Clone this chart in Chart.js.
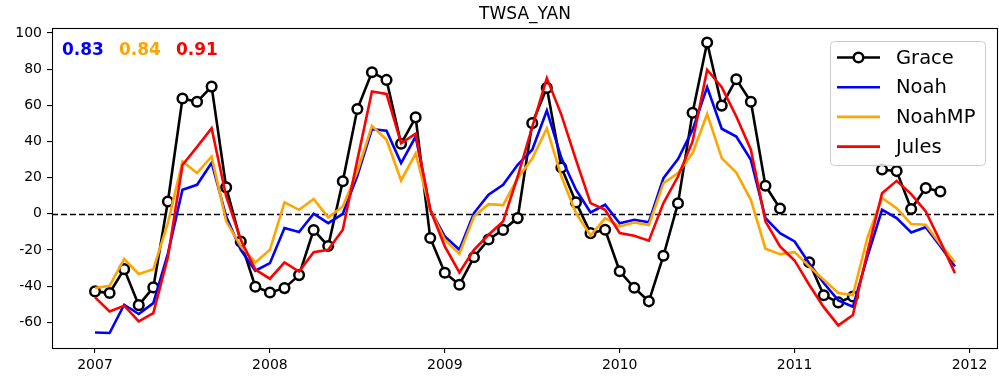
<!DOCTYPE html>
<html>
<head>
<meta charset="utf-8">
<title>TWSA_YAN</title>
<script src="https://cdn.jsdelivr.net/npm/chart.js@4.4.1/dist/chart.umd.min.js"></script>
<style>
  html, body { margin: 0; padding: 0; background: #fff; }
</style>
</head>
<body>
<canvas id="twsa" width="999" height="379"></canvas>
<script>
// monthly TWSA anomalies (mm), Jan 2007 - Dec 2011
const months = [
  '2007-01','2007-02','2007-03','2007-04','2007-05','2007-06','2007-07','2007-08','2007-09','2007-10','2007-11','2007-12',
  '2008-01','2008-02','2008-03','2008-04','2008-05','2008-06','2008-07','2008-08','2008-09','2008-10','2008-11','2008-12',
  '2009-01','2009-02','2009-03','2009-04','2009-05','2009-06','2009-07','2009-08','2009-09','2009-10','2009-11','2009-12',
  '2010-01','2010-02','2010-03','2010-04','2010-05','2010-06','2010-07','2010-08','2010-09','2010-10','2010-11','2010-12',
  '2011-01','2011-02','2011-03','2011-04','2011-05','2011-06','2011-07','2011-08','2011-09','2011-10','2011-11','2011-12'
];

// GRACE has a few missing months (null)
const grace = [
  -42.9, -43.8, -30.6, -50.5, -40.7, 6.8, 63.7, 61.9, 70.3, 14.6, -15.4, -40.3,
  -43.5, -41.1, -33.9, -9.0, -17.8, 18.0, 57.9, 78.2, 74.0, 38.7, 53.3, -13.4,
  -32.6, -39.2, -24.0, -14.2, -8.9, -2.4, 50.1, 69.6, 25.6, 6.3, -10.7, -8.8,
  -31.8, -40.9, -48.4, -23.2, 5.8, 55.8, 94.7, 59.8, 74.4, 61.9, 15.5, 2.9,
  null, -26.8, -45.0, -49.0, -45.7, null, 24.5, 23.6, 2.6, 14.2, 12.3, null
];
const noah = [
  -65.6, -65.9, -50.3, -55.4, -49.4, -22.0, 13.3, 16.0, 28.2, -1.5, -20.0, -31.5,
  -27.3, -7.9, -10.1, 0.0, -5.2, 0.0, 21.0, 46.8, 45.9, 28.0, 42.7, 2.2,
  -12.5, -19.9, 0.4, 10.5, 16.0, 27.1, 35.4, 57.1, 30.8, 13.3, 0.7, 5.0,
  -5.2, -3.3, -4.7, 19.7, 30.2, 46.4, 70.0, 47.0, 42.7, 29.8, -2.4, -10.7,
  -15.3, -27.3, -38.3, -47.9, -51.4, -23.6, 2.2, -2.4, -10.3, -7.4, -18.0, -29.1
];
const noahMP = [
  -41.0, -39.8, -25.0, -33.3, -30.6, -5.0, 28.9, 22.5, 31.7, -4.2, -18.0, -26.9,
  -19.9, 6.3, 2.2, 8.2, -2.0, 4.0, 23.4, 48.6, 40.9, 18.4, 33.3, 2.2,
  -14.4, -22.1, -1.5, 5.3, 4.8, 19.7, 30.5, 47.3, 20.6, 0.4, -12.0, -2.4,
  -7.0, -4.8, -6.2, 16.9, 22.5, 33.5, 55.2, 30.8, 22.8, 7.7, -19.3, -22.3,
  -21.2, -29.1, -36.5, -43.8, -44.9, -13.0, 8.7, 3.1, -5.7, -6.1, -16.8, -26.7
];
const jules = [
  -46.2, -54.0, -50.8, -59.5, -54.9, -24.0, 27.0, 37.0, 47.3, 9.6, -14.4, -30.9,
  -35.9, -26.9, -31.9, -21.2, -19.9, -8.8, 29.8, 67.6, 66.3, 39.0, 44.3, 2.2,
  -18.0, -32.4, -19.9, -11.6, -4.2, 20.6, 48.0, 75.0, 54.7, 29.8, 5.9, 2.2,
  -10.7, -12.2, -14.9, 5.9, 20.6, 40.0, 79.6, 70.0, 53.8, 35.4, -4.2, -18.0,
  -25.8, -39.2, -51.6, -61.7, -56.0, -21.0, 11.4, 18.2, 10.9, 1.3, -15.3, -32.8
];

// correlation of each model with GRACE
const corrLabels = ['0.83', '0.84', '0.91'];

const yearTicks = [2007, 2008, 2009, 2010, 2011, 2012];
const valueTicks = [-60, -40, -20, 0, 20, 40, 60, 80, 100];

const FONT = "'DejaVu Sans', sans-serif";

// month string -> decimal year
function toYear(s) {
  return +s.slice(0, 4) + (+s.slice(5, 7) - 1) / 12;
}
function series(values) {
  return months.map((m, i) => ({ x: toYear(m), y: values[i] }));
}

const datasets = [
  {
    label: 'Grace', data: series(grace),
    borderColor: '#000000', backgroundColor: '#ffffff',
    borderWidth: 2.6, pointRadius: 4.8, pointBorderWidth: 2.5,
    pointBackgroundColor: '#ffffff', pointBorderColor: '#000000',
    spanGaps: false, order: 4
  },
  { label: 'Noah', data: series(noah), borderColor: '#0000ff', borderWidth: 2.6, pointRadius: 0, order: 3 },
  { label: 'NoahMP', data: series(noahMP), borderColor: '#ffa500', borderWidth: 2.6, pointRadius: 0, order: 2 },
  { label: 'Jules', data: series(jules), borderColor: '#ff0000', borderWidth: 2.6, pointRadius: 0, order: 1 }
];

// zero line, frame, title, correlation numbers and the legend box
const decorations = {
  id: 'decorations',
  beforeDatasetsDraw(chart) {
    const ctx = chart.ctx;
    const area = chart.chartArea;
    const y0 = Math.round(chart.scales.y.getPixelForValue(0)) + 0.5;
    ctx.save();
    ctx.strokeStyle = '#000';
    ctx.lineWidth = 1.5;
    ctx.setLineDash([6, 3]);
    ctx.beginPath();
    ctx.moveTo(area.left, y0);
    ctx.lineTo(area.right, y0);
    ctx.stroke();
    ctx.restore();
  },
  afterDraw(chart) {
    const ctx = chart.ctx;
    const area = chart.chartArea;
    ctx.save();

    // axes box
    ctx.strokeStyle = '#000';
    ctx.lineWidth = 1.1;
    ctx.strokeRect(area.left + 0.5, area.top + 0.5, area.right - area.left - 1, area.bottom - area.top);

    // title
    ctx.fillStyle = '#000';
    ctx.font = '17px ' + FONT;
    ctx.textAlign = 'center';
    ctx.textBaseline = 'middle';
    ctx.fillText('TWSA_YAN', (area.left + area.right) / 2, 15);

    // correlation values in the model colours
    ctx.font = 'bold 17px ' + FONT;
    ctx.textAlign = 'left';
    let cx = area.left + 10;
    corrLabels.forEach((txt, k) => {
      ctx.fillStyle = chart.data.datasets[k + 1].borderColor;
      ctx.fillText(txt, cx, 51);
      cx += ctx.measureText(txt).width + 15;
    });

    // legend
    const bx = 830.5, by = 41.5, bw = 155, bh = 124;
    ctx.beginPath();
    ctx.roundRect(bx, by, bw, bh, 4);
    ctx.fillStyle = 'rgba(255,255,255,0.8)';
    ctx.fill();
    ctx.strokeStyle = '#cccccc';
    ctx.lineWidth = 1;
    ctx.stroke();

    ctx.font = '19.5px ' + FONT;
    ctx.textBaseline = 'middle';
    chart.data.datasets.forEach((ds, k) => {
      const ry = 57.5 + k * 29.7;
      ctx.strokeStyle = ds.borderColor;
      ctx.lineWidth = 2.6;
      ctx.beginPath();
      ctx.moveTo(837, ry);
      ctx.lineTo(880, ry);
      ctx.stroke();
      if (ds.pointRadius > 0) {
        ctx.beginPath();
        ctx.arc(858.5, ry, ds.pointRadius, 0, Math.PI * 2);
        ctx.fillStyle = ds.pointBackgroundColor;
        ctx.fill();
        ctx.lineWidth = ds.pointBorderWidth;
        ctx.strokeStyle = ds.pointBorderColor;
        ctx.stroke();
      }
      ctx.fillStyle = '#000';
      ctx.fillText(ds.label, 896, ry + 1);
    });

    ctx.restore();
  }
};

const config = {
  type: 'line',
  data: { datasets: datasets },
  options: {
    responsive: false,
    animation: false,
    layout: { autoPadding: false, padding: { top: 28, right: 1, left: 0, bottom: 0 } },
    plugins: {
      legend: { display: false },
      tooltip: { enabled: false },
      title: { display: false }
    },
    scales: {
      x: {
        type: 'linear',
        min: 2006.754,
        max: 2012.163,
        afterFit(scale) { scale.height = 31; },
        afterBuildTicks(scale) { scale.ticks = yearTicks.map(v => ({ value: v })); },
        border: { display: false },
        grid: { drawOnChartArea: false, drawTicks: true, tickLength: 5, color: '#000', lineWidth: 1.1 },
        ticks: {
          autoSkip: false, maxRotation: 0, padding: 4, color: '#000',
          font: { family: FONT, size: 14 },
          callback: v => String(v)
        }
      },
      y: {
        type: 'linear',
        min: -74.2,
        max: 102.7,
        afterFit(scale) { scale.width = 52; },
        afterBuildTicks(scale) { scale.ticks = valueTicks.map(v => ({ value: v })); },
        border: { display: false },
        grid: { drawOnChartArea: false, drawTicks: true, tickLength: 5, color: '#000', lineWidth: 1.1 },
        ticks: {
          padding: 5, color: '#000',
          font: { family: FONT, size: 14 },
          callback: v => String(v)
        }
      }
    }
  },
  plugins: [decorations]
};

const chart = new Chart(document.getElementById('twsa'), config);
</script>
</body>
</html>
